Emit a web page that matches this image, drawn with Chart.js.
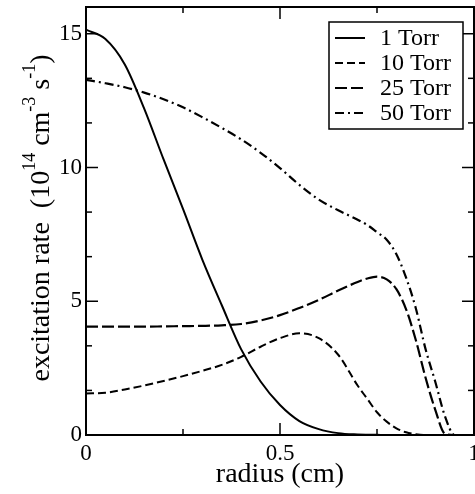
<!DOCTYPE html>
<html><head><meta charset="utf-8">
<script src="https://cdn.jsdelivr.net/npm/chart.js@4.4.1/dist/chart.umd.min.js"></script>
<style>
html,body{margin:0;padding:0;overflow:hidden;background:#fff;width:475px;height:494px}
#wrap{width:500px;height:494px;position:relative}
</style></head>
<body><div id="wrap"><canvas id="c" width="500" height="494"></canvas></div>
<script>
// ---- data ----
const radius = [0,0.05,0.1,0.15,0.2,0.25,0.3,0.35,0.4,0.45,0.5,0.55,0.6,0.65,0.7,0.725,0.75,0.775,0.8,0.825,0.85,0.875,0.9,0.925,0.95,1.0];
const torr1  = [15.15,14.8,13.85,12.2,10.3,8.45,6.55,4.85,3.2,2.0,1.12,0.52,0.22,0.07,0.02,0.01,0.005,0,0,0,0,0,0,0,0,0];
const torr10 = [1.55,1.58,1.7,1.85,2.02,2.2,2.4,2.62,2.92,3.3,3.62,3.8,3.62,3.0,1.85,1.35,0.85,0.5,0.25,0.1,0.03,0,0,0,0,0];
const torr25 = [4.05,4.05,4.05,4.05,4.06,4.07,4.08,4.1,4.15,4.28,4.48,4.75,5.05,5.4,5.72,5.85,5.92,5.82,5.45,4.7,3.55,2.15,0.95,0.05,0,0];
const torr50 = [13.28,13.15,13.0,12.8,12.55,12.25,11.88,11.48,11.05,10.55,9.98,9.35,8.8,8.4,8.05,7.85,7.58,7.3,6.76,5.88,4.74,3.22,2.0,0.71,0,0];
const seriesLabels = ['1 Torr','10 Torr','25 Torr','50 Torr'];
const xTickValues = [0,0.5,1];
const xTickLabels = ['0','0.5','1'];
const xMinorValues = [0.25,0.75];
const yTickValues = [0,5,10,15];
const yTickLabels = ['0','5','10','15'];
const yMinorValues = [5/3,10/3,20/3,25/3,35/3,40/3];
const xTitle = 'radius (cm)';
const yTitleParts = [['excitation rate  (10',0],['14',1],[' cm',0],['-3',1],[' s',0],['-1',1],[')',0]];

const SERIF = '"Liberation Serif","Times New Roman",serif';
const pts = arr => radius.map((r,i)=>({x:r,y:arr[i]}));

const framePlugin = {
  id:'frame',
  afterDatasetsDraw(chart){
    const ctx = chart.ctx, a = chart.chartArea;
    const xs = chart.scales.x, ys = chart.scales.y;
    ctx.save();
    ctx.strokeStyle = '#000';
    ctx.lineWidth = 2;
    ctx.strokeRect(a.left, a.top, a.right-a.left, a.bottom-a.top);
    ctx.lineWidth = 1.5;
    const tick = (x1,y1,x2,y2)=>{ctx.beginPath();ctx.moveTo(x1,y1);ctx.lineTo(x2,y2);ctx.stroke();};
    const xt = (v,len)=>{const p = xs.getPixelForValue(v); tick(p,a.bottom,p,a.bottom-len); tick(p,a.top,p,a.top+len);};
    const yt = (v,len)=>{const p = ys.getPixelForValue(v); tick(a.left,p,a.left+len,p); tick(a.right,p,a.right-len,p);};
    xTickValues.forEach(v=>xt(v,12)); xMinorValues.forEach(v=>xt(v,6));
    yTickValues.forEach(v=>yt(v,12)); yMinorValues.forEach(v=>yt(v,6));

    // legend box
    const lx = 329, ly = 22, lw = 134, lh = 107;
    ctx.fillStyle = '#fff';
    ctx.fillRect(lx, ly, lw, lh);
    ctx.lineWidth = 1.5;
    ctx.strokeRect(lx, ly, lw, lh);
    ctx.font = '24px ' + SERIF;
    ctx.textBaseline = 'middle';
    ctx.textAlign = 'left';
    ctx.fillStyle = '#000';
    chart.data.datasets.forEach((ds,i)=>{
      const cy = 38 + i*25;
      ctx.save();
      ctx.lineWidth = ds.borderWidth;
      ctx.setLineDash(ds.borderDash || []);
      ctx.beginPath(); ctx.moveTo(335, cy); ctx.lineTo(365, cy); ctx.stroke();
      ctx.restore();
      ctx.fillText(ds.label, 380, cy+1);
    });

    // y-axis title with superscripts
    const fs = 28, sfs = 18;
    const cx = 40, cyc = (a.top + a.bottom)/2 - 3;
    let total = 0;
    yTitleParts.forEach(([t,s])=>{ctx.font = (s?sfs:fs)+'px '+SERIF; total += ctx.measureText(t).width;});
    ctx.translate(cx, cyc);
    ctx.rotate(-Math.PI/2);
    ctx.textAlign = 'left';
    ctx.textBaseline = 'alphabetic';
    let x = -total/2;
    const base = fs*0.33;
    yTitleParts.forEach(([t,s])=>{
      ctx.font = (s?sfs:fs)+'px '+SERIF;
      ctx.fillText(t, x, s ? base - fs*0.5 : base);
      x += ctx.measureText(t).width;
    });
    ctx.restore();
  }
};

const mk = (label, arr, dash, w) => ({
  label, data: pts(arr), borderColor:'#000', backgroundColor:'#000',
  borderWidth: w, borderDash: dash, pointRadius:0, fill:false,
  cubicInterpolationMode:'monotone', tension:0
});

new Chart(document.getElementById('c'), {
  type:'line',
  data:{ datasets:[
    mk(seriesLabels[0], torr1, [], 2),
    mk(seriesLabels[1], torr10, [8,4], 2),
    mk(seriesLabels[2], torr25, [12,4], 2.2),
    mk(seriesLabels[3], torr50, [9,4,2,4], 2.2)
  ]},
  options:{
    responsive:false, animation:false,
    layout:{padding:{left:0,right:26,top:7,bottom:0}},
    plugins:{legend:{display:false}, tooltip:{enabled:false}},
    scales:{
      x:{ type:'linear', min:0, max:1,
        grid:{display:false, drawTicks:false}, border:{display:false},
        afterBuildTicks: s => { s.ticks = xTickValues.map(v=>({value:v})); },
        ticks:{ padding:5, color:'#000', font:{family:SERIF, size:23}, maxRotation:0,
          callback:(v)=>{const i = xTickValues.indexOf(v); return i>=0 ? xTickLabels[i] : '';} },
        title:{display:true, text:xTitle, color:'#000', font:{family:SERIF, size:28}, padding:{top:0,bottom:3}},
        afterFit: s => { s.height = 59; s.paddingLeft = 0; s.paddingRight = 0; }
      },
      y:{ type:'linear', min:0, max:16,
        grid:{display:false, drawTicks:false}, border:{display:false},
        afterBuildTicks: s => { s.ticks = yTickValues.map(v=>({value:v})); },
        ticks:{ padding:4, color:'#000', font:{family:SERIF, size:23},
          callback:(v)=>{const i = yTickValues.indexOf(v); return i>=0 ? yTickLabels[i] : '';} },
        afterFit: s => { s.width = 86; s.paddingTop = 0; s.paddingBottom = 0; }
      }
    }
  },
  plugins:[framePlugin]
});
</script>
</body></html>
